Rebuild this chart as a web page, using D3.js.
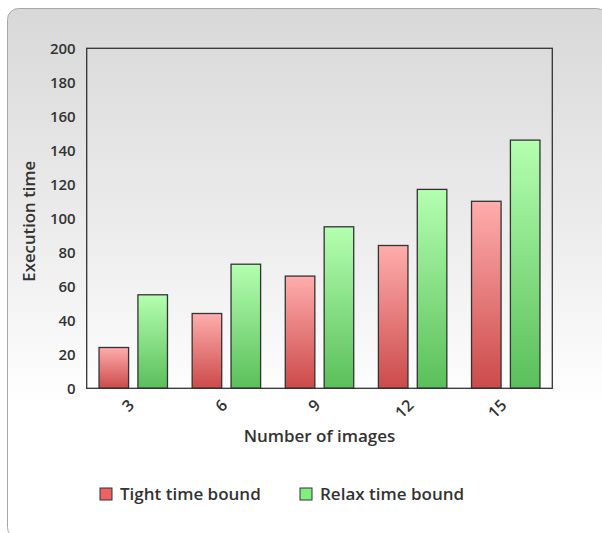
<!DOCTYPE html>
<html><head><meta charset="utf-8">
<script src="https://cdn.jsdelivr.net/npm/d3@7"></script>
<style>
html,body{margin:0;padding:0;background:#fff;}
svg{display:block;font-family:"Open Sans",sans-serif;}
</style></head>
<body>
<svg id="chart" width="602" height="533"></svg>
<script>
const categories = ["3", "6", "9", "12", "15"];
const seriesNames = ["Tight time bound", "Relax time bound"];
const tightValues = [24, 44, 66, 84, 110];
const relaxValues = [55, 73, 95, 117, 146];
const yTicks = [0, 20, 40, 60, 80, 100, 120, 140, 160, 180, 200];

const svg = d3.select("#chart");
const defs = svg.append("defs");

const bg = defs.append("linearGradient").attr("id","bg").attr("x1",0).attr("y1",0).attr("x2",0).attr("y2",1);
bg.append("stop").attr("offset","0%").attr("stop-color","#d8d8d8");
bg.append("stop").attr("offset","45%").attr("stop-color","#eeeeee");
bg.append("stop").attr("offset","75%").attr("stop-color","#ffffff");
bg.append("stop").attr("offset","100%").attr("stop-color","#ffffff");

const gRed = defs.append("linearGradient").attr("id","gRed").attr("x1",0).attr("y1",0).attr("x2",0).attr("y2",1);
gRed.append("stop").attr("offset","0%").attr("stop-color","#ffadad");
gRed.append("stop").attr("offset","100%").attr("stop-color","#cc4a4a");
const gGreen = defs.append("linearGradient").attr("id","gGreen").attr("x1",0).attr("y1",0).attr("x2",0).attr("y2",1);
gGreen.append("stop").attr("offset","0%").attr("stop-color","#b4ffb0");
gGreen.append("stop").attr("offset","100%").attr("stop-color","#5abf5a");

svg.append("rect").attr("x",7.5).attr("y",8.5).attr("width",600).attr("height",530)
  .attr("rx",11).attr("fill","url(#bg)").attr("stroke","#a8a8a8").attr("stroke-width",1);

const m = {left:86.7, right:552.3, top:48.3, bottom:388.3};
const x0 = d3.scaleBand().domain(categories).range([m.left, m.right]).paddingInner(0.265).paddingOuter(0.1325);
const x1 = d3.scaleBand().domain(seriesNames).range([0, x0.bandwidth()]).paddingInner(0.24).paddingOuter(0);
const y = d3.scaleLinear().domain([0,200]).range([m.bottom, m.top]);

const data = categories.map((c,i)=>({cat:c, vals:[{s:seriesNames[0], v:tightValues[i]},{s:seriesNames[1], v:relaxValues[i]}]}));
const fills = {[seriesNames[0]]:"url(#gRed)", [seriesNames[1]]:"url(#gGreen)"};

// bars
const groups = svg.append("g").selectAll("g").data(data).join("g")
  .attr("transform", d=>`translate(${x0(d.cat)},0)`);
groups.selectAll("rect").data(d=>d.vals).join("rect")
  .attr("x", d=>x1(d.s)).attr("width", x1.bandwidth())
  .attr("y", d=>y(d.v)).attr("height", d=>y(0)-y(d.v))
  .attr("fill", d=>fills[d.s]).attr("stroke","#333").attr("stroke-width",1.3);

// plot frame
svg.append("rect").attr("x",m.left).attr("y",m.top).attr("width",m.right-m.left).attr("height",m.bottom-m.top)
  .attr("fill","none").attr("stroke","#333").attr("stroke-width",1.3);

// y axis
const yAxis = svg.append("g").attr("transform",`translate(${m.left},0)`)
  .call(d3.axisLeft(y).tickValues(yTicks).tickSize(0).tickPadding(11));
yAxis.select(".domain").remove();
yAxis.selectAll("text").attr("font-family","Open Sans").attr("font-size",15).attr("font-weight",600).attr("fill","#333");

// x axis labels
const xAxis = svg.append("g").attr("transform",`translate(0,${m.bottom})`)
  .call(d3.axisBottom(x0).tickSize(0).tickPadding(0));
xAxis.select(".domain").remove();
xAxis.selectAll(".tick text")
  .attr("font-family","Open Sans").attr("font-size",16).attr("font-weight",600).attr("fill","#333")
  .attr("text-anchor","end").attr("dy",0).attr("y",0)
  .attr("transform","translate(2,18) rotate(-45)");

// axis titles
svg.append("text").attr("transform",`translate(35,${(m.top+m.bottom)/2+3}) rotate(-90)`)
  .attr("text-anchor","middle").attr("font-size",16.8).attr("font-weight",600).attr("fill","#333")
  .text("Execution time");
svg.append("text").attr("x",(m.left+m.right)/2).attr("y",442)
  .attr("text-anchor","middle").attr("font-size",17).attr("font-weight",600).attr("fill","#333")
  .text("Number of images");

// legend
const legendColors = ["#f06262", "#80f07c"];
const legendX = [100, 300];
const lg = svg.append("g").selectAll("g").data(seriesNames).join("g")
  .attr("transform",(d,i)=>`translate(${legendX[i]},488)`);
lg.append("rect").attr("width",12).attr("height",12).attr("fill",(d,i)=>legendColors[i]).attr("stroke","#333").attr("stroke-width",1);
lg.append("text").attr("x",20).attr("y",12).attr("font-size",17).attr("font-weight",600).attr("fill","#333").text(d=>d);
</script>
</body></html>
